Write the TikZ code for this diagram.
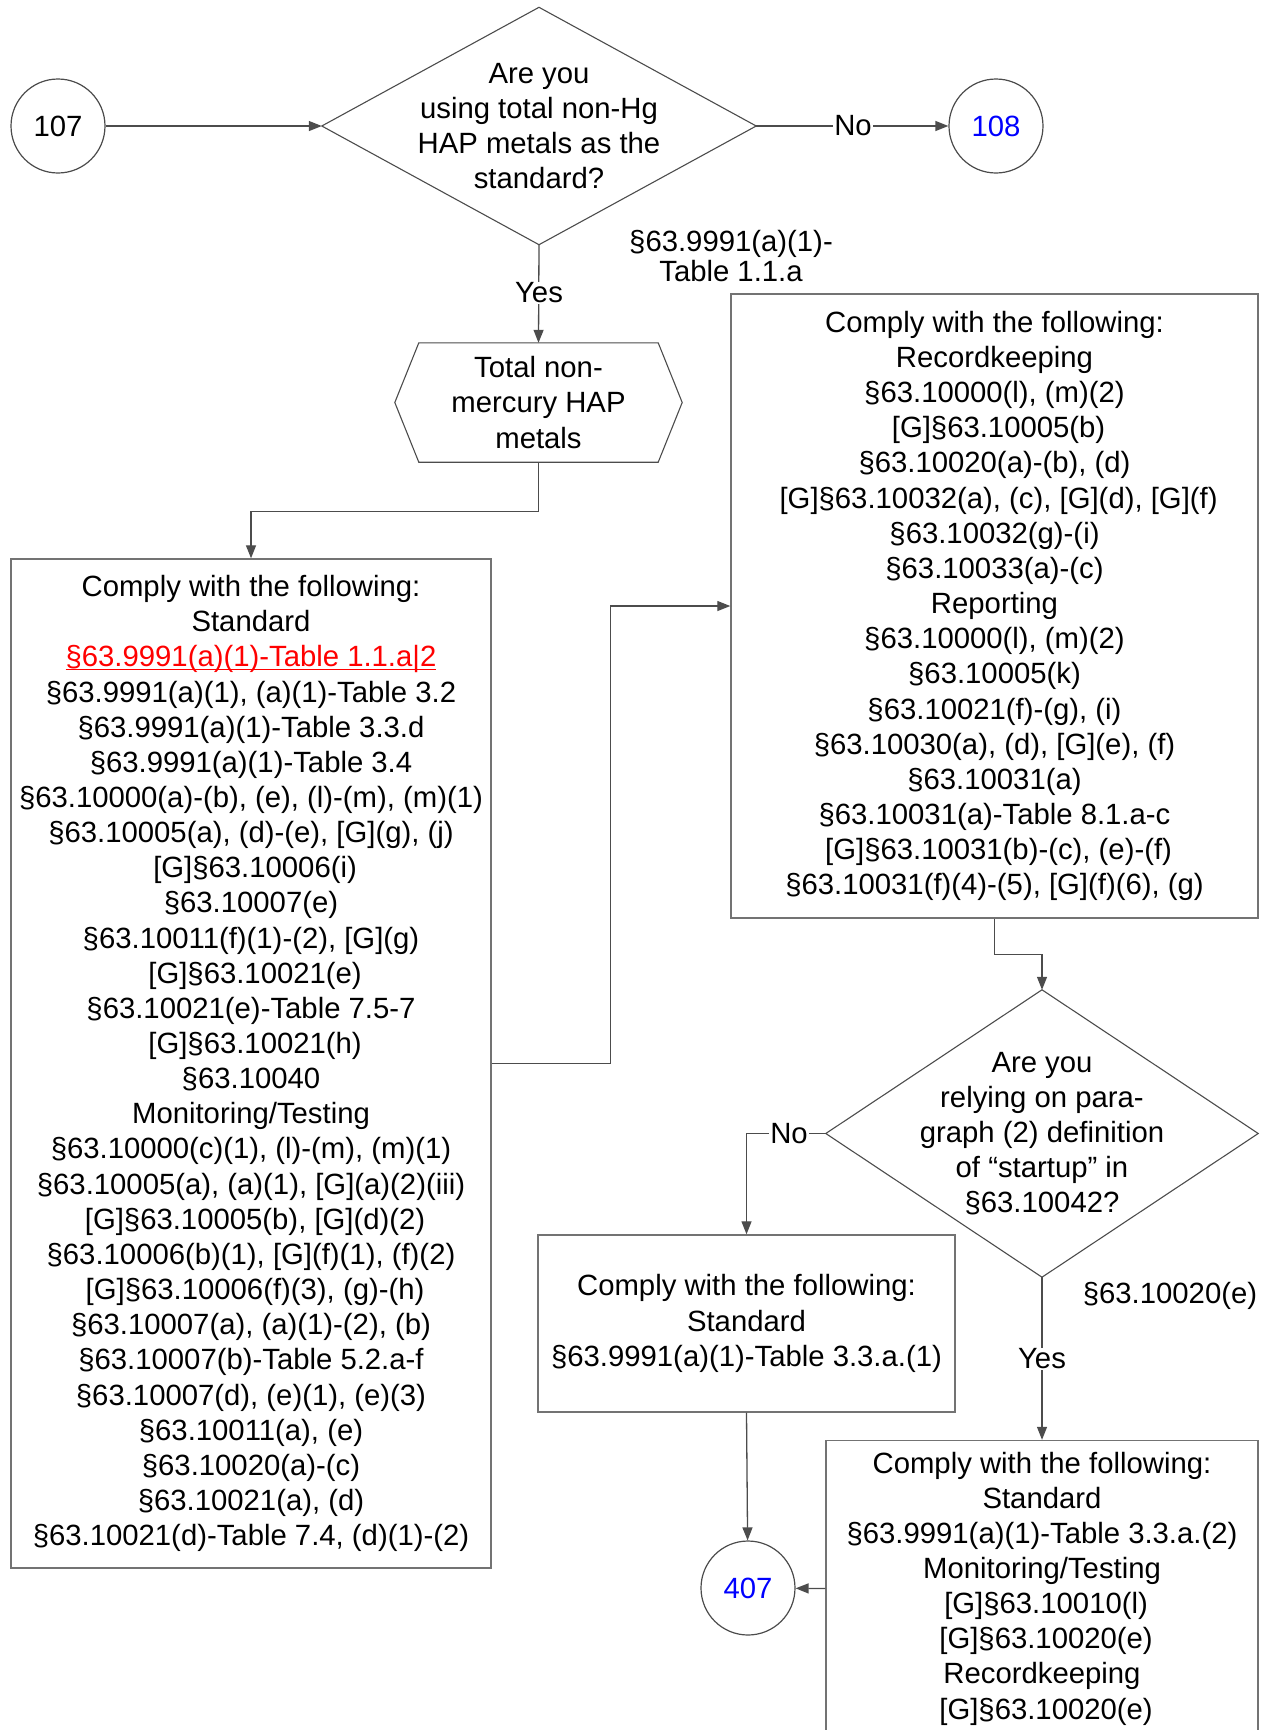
\documentclass[tikz,border=0pt]{standalone}
\usepackage{fontspec}
\setmainfont{Liberation Sans}
\usetikzlibrary{arrows.meta}
\definecolor{boxgray}{rgb}{0.45,0.45,0.45}
\definecolor{linegray}{rgb}{0.3,0.3,0.3}
\definecolor{refred}{rgb}{1,0,0}
\definecolor{refblue}{rgb}{0,0,1}
\newcommand\myuline[1]{\setbox0\hbox{#1}\rlap{\rule[-3pt]{\wd0}{1.3pt}}\box0}
\begin{document}
\begin{tikzpicture}[x=1pt,y=-1pt,
  txt/.style={font=\fontsize{29.3}{35.15}\selectfont, align=center, inner sep=0pt},
  box/.style={txt, draw=boxgray, line width=1.4pt},
  shapebox/.style={txt, draw=none},
  circ/.style={txt, circle, draw=linegray, line width=1.2pt, minimum size=94pt},
  outline/.style={draw=linegray, line width=1.1pt},
  conn/.style={draw=linegray, line width=1.3pt, -{Triangle[length=13pt,width=10pt]}},
  lbl/.style={txt, fill=white, inner sep=1pt},
  freelbl/.style={txt, font=\fontsize{29.3}{30}\selectfont}
]
\useasboundingbox (0,0) rectangle (1264,1730);
\clip (0,0) rectangle (1264,1730);

% nodes
\node[circ] (c107) at (58,126) {107};
\node[shapebox, minimum width=434pt, minimum height=237pt] (d1) at (539,126)
  {Are you\\using total non-Hg\\HAP metals as the\\standard?};
\draw[outline] (d1.north) -- (d1.east) -- (d1.south) -- (d1.west) -- cycle;
\node[circ, text=refblue] (c108) at (996,126) {108};

\node[shapebox, minimum width=287pt, minimum height=119pt] (hex) at (538.5,402.5)
  {Total non-\\mercury HAP\\metals};
\draw[outline] ([xshift=24pt]hex.north west) -- ([xshift=-24pt]hex.north east)
  -- (hex.east) -- ([xshift=-24pt]hex.south east) -- ([xshift=24pt]hex.south west)
  -- (hex.west) -- cycle;

\node[box, minimum width=480pt, minimum height=1009pt] (lbox) at (251,1063.5)
  {Comply with the following:\\Standard\\
   {\color{refred}\myuline{§63.9991(a)(1)-Table 1.1.a|2}}\\
   §63.9991(a)(1), (a)(1)-Table 3.2\\
   §63.9991(a)(1)-Table 3.3.d\\
   §63.9991(a)(1)-Table 3.4\\
   §63.10000(a)-(b), (e), (l)-(m), (m)(1)\\
   §63.10005(a), (d)-(e), [G](g), (j)\\{}
   [G]§63.10006(i)\\
   §63.10007(e)\\
   §63.10011(f)(1)-(2), [G](g)\\{}
   [G]§63.10021(e)\\
   §63.10021(e)-Table 7.5-7\\{}
   [G]§63.10021(h)\\
   §63.10040\\
   Monitoring/Testing\\
   §63.10000(c)(1), (l)-(m), (m)(1)\\
   §63.10005(a), (a)(1), [G](a)(2)(iii)\\{}
   [G]§63.10005(b), [G](d)(2)\\
   §63.10006(b)(1), [G](f)(1), (f)(2)\\{}
   [G]§63.10006(f)(3), (g)-(h)\\
   §63.10007(a), (a)(1)-(2), (b)\\
   §63.10007(b)-Table 5.2.a-f\\
   §63.10007(d), (e)(1), (e)(3)\\
   §63.10011(a), (e)\\
   §63.10020(a)-(c)\\
   §63.10021(a), (d)\\
   §63.10021(d)-Table 7.4, (d)(1)-(2)};

\node[box, minimum width=527pt, minimum height=624pt] (rbox) at (994.5,606)
  {Comply with the following:\\Recordkeeping\\
   §63.10000(l), (m)(2)\\{}
   [G]§63.10005(b)\\
   §63.10020(a)-(b), (d)\\{}
   [G]§63.10032(a), (c), [G](d), [G](f)\\
   §63.10032(g)-(i)\\
   §63.10033(a)-(c)\\
   Reporting\\
   §63.10000(l), (m)(2)\\
   §63.10005(k)\\
   §63.10021(f)-(g), (i)\\
   §63.10030(a), (d), [G](e), (f)\\
   §63.10031(a)\\
   §63.10031(a)-Table 8.1.a-c\\{}
   [G]§63.10031(b)-(c), (e)-(f)\\
   §63.10031(f)(4)-(5), [G](f)(6), (g)};

\node[shapebox, minimum width=432pt, minimum height=287pt] (d2) at (1042,1133.5)
  {Are you\\relying on para-\\graph (2) definition\\of “startup” in\\§63.10042?};
\draw[outline] (d2.north) -- (d2.east) -- (d2.south) -- (d2.west) -- cycle;

\node[box, minimum width=417pt, minimum height=177pt] (mbox) at (746.5,1323.5)
  {Comply with the following:\\Standard\\§63.9991(a)(1)-Table 3.3.a.(1)};

\node[box, minimum width=432pt, minimum height=296pt] (brbox) at (1042,1588.5)
  {Comply with the following:\\Standard\\
   §63.9991(a)(1)-Table 3.3.a.(2)\\
   Monitoring/Testing\\{}
   [G]§63.10010(l)\\{}
   [G]§63.10020(e)\\
   Recordkeeping\\{}
   [G]§63.10020(e)};

\node[circ, text=refblue] (c407) at (748,1588) {407};

% connectors
\draw[conn] (c107) -- (d1.west);
\draw[conn] (d1.east) -- (c108);
\draw[conn] (d1.south) -- (hex.north);
\draw[conn] (hex.south) -- ++(0,49) -| (lbox.north);
\draw[conn] (lbox.east) -- ++(119,0) |- (rbox.west);
\draw[conn] (rbox.south) -- ++(0,36) -| (d2.north);
\draw[conn] (d2.west) -| (mbox.north);
\draw[conn] (d2.south) -- (brbox.north);
\draw[conn] (mbox.south) -- (c407);
\draw[conn] (brbox.west) -- (c407);

% labels
\node[lbl] (lno1) at (853,126) {No};
\node[lbl] (lyes1) at (539,293) {Yes};
\node[freelbl] (ref1) at (731,256) {§63.9991(a)(1)-\\Table 1.1.a};
\node[lbl] (lno2) at (789,1134) {No};
\node[lbl] (lyes2) at (1042,1359) {Yes};
\node[txt] (ref2) at (1170,1296) {§63.10020(e)};
\end{tikzpicture}
\end{document}
